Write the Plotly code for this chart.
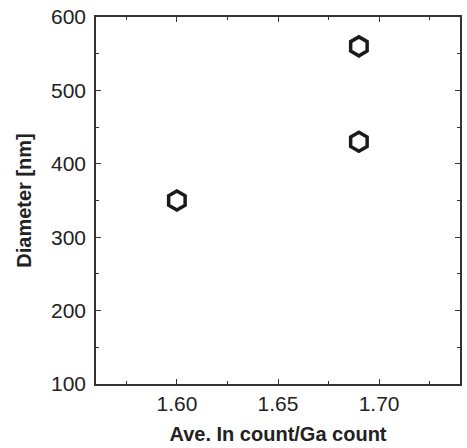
import plotly.graph_objects as go

ratio = [1.60, 1.69, 1.69]
diameter = [350, 560, 430]
x_ticks = [1.60, 1.65, 1.70]
x_tick_labels = ["1.60", "1.65", "1.70"]
y_ticks = [100, 200, 300, 400, 500, 600]

FONT = "Liberation Sans, Arial, Helvetica, sans-serif"

fig = go.Figure()
fig.add_trace(go.Scatter(
    x=ratio, y=diameter, mode="markers",
    marker=dict(symbol="hexagon-open", size=19, color="#1a1a1a",
                line=dict(width=3.5, color="#1a1a1a")),
    showlegend=False,
))

axis_common = dict(
    showline=True, linecolor="#333333", linewidth=1.5, mirror="ticks",
    ticks="inside", ticklen=5, tickwidth=1, tickcolor="#333333",
    showgrid=False, zeroline=False,
    tickfont=dict(family=FONT, size=21, color="#222222"),
)

fig.update_xaxes(
    range=[1.56, 1.74], tickvals=x_ticks, ticktext=x_tick_labels,
    minor=dict(ticks="inside", ticklen=3, tickcolor="#333333", dtick=0.025, tick0=1.575),
    title=dict(text="<b>Ave. In count/Ga count</b>",
               font=dict(family=FONT, size=20, color="#222222"),
               standoff=13),
    **axis_common,
)
fig.update_yaxes(
    range=[100, 600], tickvals=y_ticks,
    ticklabelstandoff=4,
    minor=dict(ticks="inside", ticklen=3, tickcolor="#333333", dtick=50, tick0=150),
    title=dict(text="<b>Diameter [nm]</b>",
               font=dict(family=FONT, size=20, color="#222222"),
               standoff=14),
    **axis_common,
)

fig.update_layout(
    width=467, height=448,
    margin=dict(l=96, r=5, t=17, b=64),
    plot_bgcolor="white", paper_bgcolor="white",
)

fig.write_html("out.html", config={"displayModeBar": False},
               post_script="document.body.style.margin='0';document.body.style.overflow='hidden';")
